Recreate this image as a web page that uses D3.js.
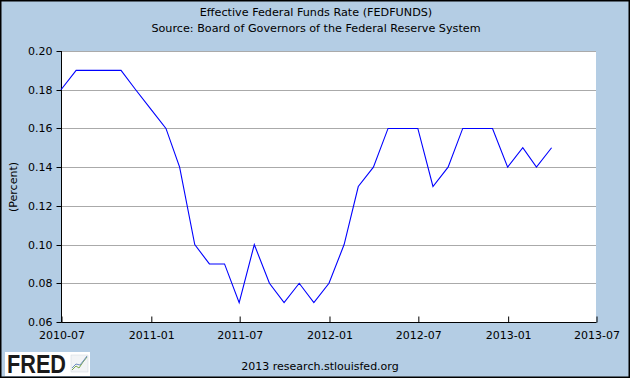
<!DOCTYPE html>
<html><head><meta charset="utf-8">
<script src="https://cdn.jsdelivr.net/npm/d3@7"></script>
<style>html,body{margin:0;padding:0;background:#fff;}svg{display:block;}</style>
</head><body>
<script>
const dates = ["2010-07","2010-08","2010-09","2010-10","2010-11","2010-12",
 "2011-01","2011-02","2011-03","2011-04","2011-05","2011-06","2011-07","2011-08","2011-09","2011-10","2011-11","2011-12",
 "2012-01","2012-02","2012-03","2012-04","2012-05","2012-06","2012-07","2012-08","2012-09","2012-10","2012-11","2012-12",
 "2013-01","2013-02","2013-03","2013-04"];
const rates = [0.18,0.19,0.19,0.19,0.19,0.18,
 0.17,0.16,0.14,0.10,0.09,0.09,0.07,0.10,0.08,0.07,0.08,0.07,
 0.08,0.10,0.13,0.14,0.16,0.16,0.16,0.13,0.14,0.16,0.16,0.16,
 0.14,0.15,0.14,0.15];
const xTickLabels = ["2010-07","2011-01","2011-07","2012-01","2012-07","2013-01","2013-07"];
const yTicks = [0.06,0.08,0.10,0.12,0.14,0.16,0.18,0.20];

const W=630,H=378;
const parse = d3.timeParse("%Y-%m");
const svg = d3.select("body").append("svg").attr("width",W).attr("height",H);
svg.append("rect").attr("x",0).attr("y",0).attr("width",W).attr("height",H).attr("fill","#B4CDE4");
svg.append("rect").attr("x",0.5).attr("y",0.5).attr("width",W-1).attr("height",H-1).attr("fill","none").attr("stroke","#000").attr("stroke-width",2);

const L=61,R=596,T=51,B=322;
const x = d3.scaleTime().domain([parse("2010-07"),parse("2013-07")]).range([L,R]);
const y = d3.scaleLinear().domain([0.06,0.20]).range([B,T]);

svg.append("rect").attr("x",L).attr("y",T).attr("width",R-L).attr("height",B-T).attr("fill","#fff");

const font = "DejaVu Sans, sans-serif";
// gridlines
svg.append("g").selectAll("line").data(yTicks.filter(v=>v>0.06)).join("line")
  .attr("x1",L).attr("x2",R).attr("y1",d=>Math.round(y(d))+0.5).attr("y2",d=>Math.round(y(d))+0.5)
  .attr("stroke","#aaaaaa").attr("stroke-width",1);

// y axis
const yAxis = d3.axisLeft(y).tickValues(yTicks).tickFormat(d3.format(".2f")).tickSize(5).tickPadding(4);
const gy = svg.append("g").attr("transform",`translate(${L+0.5},0.5)`).call(yAxis);
gy.select(".domain").attr("stroke","#000").attr("d",`M0,${T-0.5}V${B}`);
gy.selectAll(".tick line").attr("stroke","#000");
gy.selectAll("text").attr("font-family",font).attr("font-size",11).attr("fill","#000");
gy.selectAll(".tick").attr("transform",d=>`translate(0,${Math.round(y(d))})`);

// x axis
const xAxis = d3.axisBottom(x).tickValues(xTickLabels.map(parse)).tickFormat(d3.timeFormat("%Y-%m")).tickSize(0).tickPadding(9);
const gx = svg.append("g").attr("transform",`translate(0.5,${B+0.5})`).call(xAxis);
gx.select(".domain").attr("stroke","#000").attr("d",`M${L},0H${R}`);
gx.selectAll(".tick").append("line").attr("y1",0).attr("y2",-6).attr("stroke","#000");
gx.selectAll(".tick").filter((d,i)=>i===0||i===xTickLabels.length-1).select("line").remove();
gx.selectAll("text").attr("font-family",font).attr("font-size",11).attr("fill","#000");

// line
const line = d3.line().x((d,i)=>x(parse(dates[i]))).y(d=>y(d));
svg.append("path").datum(rates).attr("d",line).attr("fill","none").attr("stroke","#0000ff").attr("stroke-width",1.1);

// titles
svg.append("text").attr("x",316).attr("y",16).attr("text-anchor","middle").attr("font-family",font).attr("font-size",11.2).text("Effective Federal Funds Rate (FEDFUNDS)");
svg.append("text").attr("x",316).attr("y",32).attr("text-anchor","middle").attr("font-family",font).attr("font-size",11.2).text("Source: Board of Governors of the Federal Reserve System");
svg.append("text").attr("transform","translate(17,187) rotate(-90)").attr("text-anchor","middle").attr("font-family",font).attr("font-size",11).text("(Percent)");
svg.append("text").attr("x",320).attr("y",370).attr("text-anchor","middle").attr("font-family",font).attr("font-size",11).text("2013 research.stlouisfed.org");

// FRED logo
svg.append("rect").attr("x",5).attr("y",352).attr("width",85).attr("height",24).attr("fill","#fff");
svg.append("text").attr("x",7).attr("y",373).attr("font-family","Liberation Sans, Arial, sans-serif").attr("font-weight","bold").attr("font-size",25).attr("fill","#1a1a1a").attr("textLength",59).attr("lengthAdjust","spacingAndGlyphs").text("FRED");
svg.append("rect").attr("x",71).attr("y",355).attr("width",17).attr("height",17).attr("fill","#f2f4f6").attr("stroke","#cfd6de").attr("stroke-width",0.5);
svg.append("path").attr("d","M72,370 L76,366 L79,368 L83,362 L87,357").attr("fill","none").attr("stroke","#7aa84a").attr("stroke-width",1);
svg.append("path").attr("d","M72,368 L76,364 L80,365 L84,360 L87,356").attr("fill","none").attr("stroke","#6f8fc0").attr("stroke-width",1);
</script>
</body></html>
